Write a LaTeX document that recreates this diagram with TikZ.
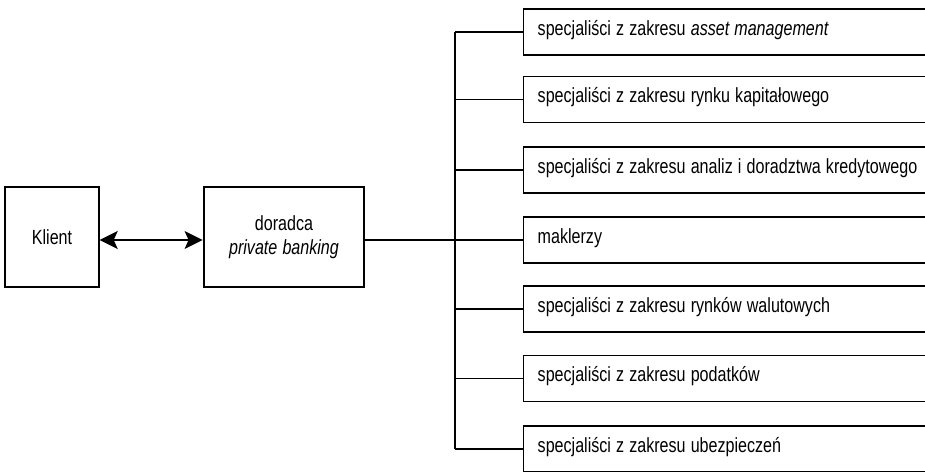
\documentclass[tikz,border=0pt]{standalone}
\usepackage{fontspec}
\setmainfont[FakeStretch=0.785]{Liberation Sans}
\usetikzlibrary{arrows.meta}
\newcommand{\labelfont}{\fontsize{20.5}{24}\selectfont\spaceskip=0.25em\relax}
\begin{document}
\begin{tikzpicture}[x=1pt,y=1pt,
  every node/.style={font=\labelfont},
  plainbox/.style={draw,line width=1.4pt,minimum width=94pt,minimum height=100pt},
  advisorbox/.style={draw,line width=2.8pt,minimum width=160pt,minimum height=100pt,align=center},
  expertbox/.style={draw,line width=1.4pt,anchor=west,minimum height=46pt,
    minimum width=420pt,inner xsep=14pt,text depth=0.2em,text height=0.9em},
  link/.style={line width=1.4pt},
  twoway/.style={line width=1.4pt,{Stealth[length=18pt,width=18pt,inset=4pt]}-{Stealth[length=18pt,width=18pt,inset=4pt]}}]
\useasboundingbox (0,0) rectangle (925,471);
\clip (0,0) rectangle (925,471);

% client and advisor
\node[plainbox] (klient) at (52,234) {Klient};
\node[advisorbox] (doradca) at (284,234) {doradca\\\textit{private banking}};
\draw[twoway] (klient.east |- 0,231) -- (doradca.west |- 0,231);

% specialist boxes, open to the right; labels flush left
\coordinate (trunk) at (455,0);
\node[expertbox] (s1) at (523,439) {\makebox[392pt][l]{specjaliści z zakresu \textit{asset management}}};
\node[expertbox] (s2) at (523,371.5) {\makebox[392pt][l]{specjaliści z zakresu rynku kapitałowego}};
\node[expertbox] (s3) at (523,301) {\makebox[392pt][l]{specjaliści z zakresu analiz i doradztwa kredytowego}};
\node[expertbox] (s4) at (523,231) {\makebox[392pt][l]{maklerzy}};
\node[expertbox] (s5) at (523,162) {\makebox[392pt][l]{specjaliści z zakresu rynków walutowych}};
\node[expertbox] (s6) at (523,92.5) {\makebox[392pt][l]{specjaliści z zakresu podatków}};
\node[expertbox] (s7) at (523,22) {\makebox[392pt][l]{specjaliści z zakresu ubezpieczeń}};

% tree of connectors
\draw[link] (doradca.east |- s4.west) -- (trunk |- s4.west);
\draw[link] (trunk |- s1.west) -- (trunk |- s7.west);
\foreach \s in {s1,s2,s3,s4,s5,s6,s7}
  \draw[link] (trunk |- \s.west) -- (\s.west);
\end{tikzpicture}
\end{document}
